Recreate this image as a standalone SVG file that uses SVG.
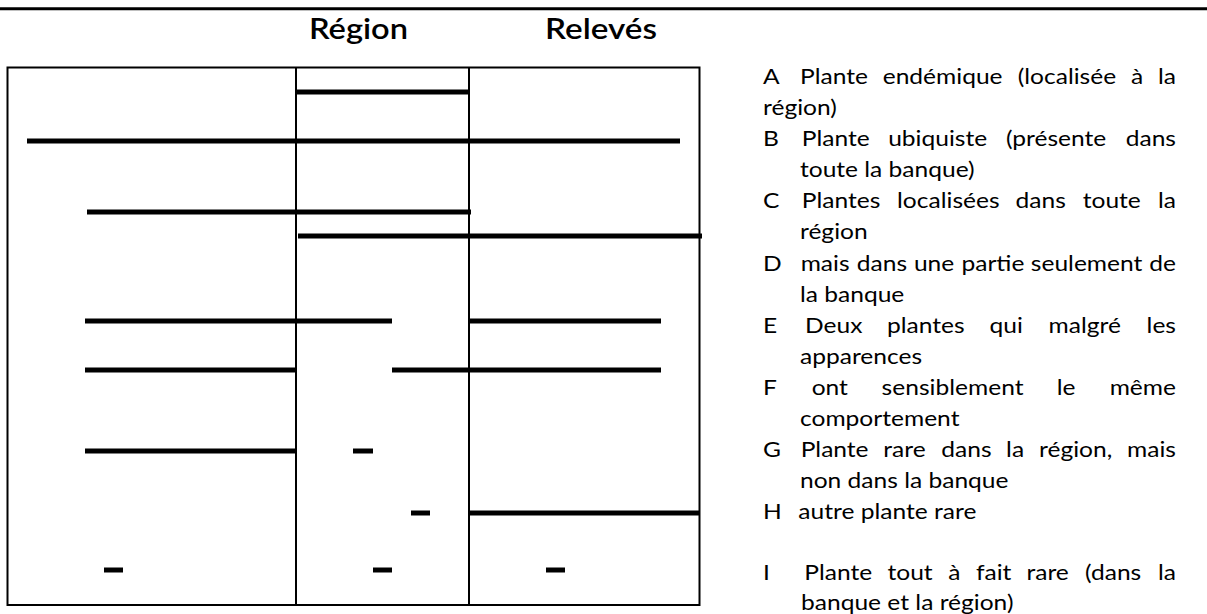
<svg xmlns="http://www.w3.org/2000/svg" width="1207" height="614" viewBox="0 0 1207 614">
  <style>
    .frame { fill: none; stroke: #000; stroke-width: 2; }
    .rule { stroke: #000; stroke-width: 3; }
    .bar { stroke: #000; stroke-width: 5; stroke-linecap: butt; }
    .title { font-family: Lato, "Liberation Sans", sans-serif; font-size: 28px; font-weight: 600; fill: #000; }
    .leg { font-family: Lato, "Liberation Sans", sans-serif; font-size: 21px; fill: #000; }
    .end { text-anchor: end; }
  </style>
  <rect width="1207" height="614" fill="#fff"/>
  <line class="rule" x1="0" y1="8.8" x2="1207" y2="8.8"/>

  <g id="titles">
    <text class="title" x="309" y="39" textLength="99" lengthAdjust="spacingAndGlyphs">Région</text>
    <text class="title" x="545" y="39" textLength="112" lengthAdjust="spacingAndGlyphs">Relevés</text>
  </g>

  <g id="table">
    <rect class="frame" x="7.5" y="67.5" width="692" height="537.5"/>
    <line class="frame" x1="296" y1="67.5" x2="296" y2="605"/>
    <line class="frame" x1="469" y1="67.5" x2="469" y2="605"/>
  </g>

  <g id="connectors">
    <g id="plant-A"><line class="bar" x1="296" y1="92" x2="468" y2="92"/></g>
    <g id="plant-B"><line class="bar" x1="27" y1="141" x2="680" y2="141"/></g>
    <g id="plant-C"><line class="bar" x1="87" y1="212" x2="471" y2="212"/></g>
    <g id="plant-D"><line class="bar" x1="298" y1="236" x2="702" y2="236"/></g>
    <g id="plant-E">
      <line class="bar" x1="85" y1="321" x2="392" y2="321"/>
      <line class="bar" x1="469" y1="321" x2="661" y2="321"/>
    </g>
    <g id="plant-F">
      <line class="bar" x1="85" y1="370" x2="295" y2="370"/>
      <line class="bar" x1="392" y1="370" x2="661" y2="370"/>
    </g>
    <g id="plant-G">
      <line class="bar" x1="85" y1="451" x2="295" y2="451"/>
      <line class="bar" x1="353" y1="451" x2="373" y2="451"/>
    </g>
    <g id="plant-H">
      <line class="bar" x1="411" y1="513" x2="430" y2="513"/>
      <line class="bar" x1="469" y1="513" x2="699" y2="513"/>
    </g>
    <g id="plant-I">
      <line class="bar" x1="104" y1="570" x2="123" y2="570"/>
      <line class="bar" x1="373" y1="570" x2="392" y2="570"/>
      <line class="bar" x1="546" y1="570" x2="565" y2="570"/>
    </g>
  </g>

  <g id="legend" class="leg" transform="matrix(1.17 0 0 1 -129.71 0)">
    <g id="leg-A">
      <text x="763" y="84">A</text>
      <text y="84"><tspan x="794.6">Plante</tspan><tspan x="865.3">endémique</tspan><tspan x="980.7">(localisée</tspan><tspan x="1077.6">à</tspan></text>
      <text class="end" x="1116" y="84">la</text>
      <text x="763" y="115.1">région)</text>
    </g>
    <g id="leg-B">
      <text x="763" y="146.2">B</text>
      <text y="146.2"><tspan x="796.1">Plante</tspan><tspan x="870">ubiquiste</tspan><tspan x="970.6">(présente</tspan></text>
      <text class="end" x="1116" y="146.2">dans</text>
      <text x="794.6" y="177.3">toute la banque)</text>
    </g>
    <g id="leg-C">
      <text x="763" y="208.4">C</text>
      <text y="208.4"><tspan x="796.1">Plantes</tspan><tspan x="877.6">localisées</tspan><tspan x="978.8">dans</tspan><tspan x="1036.3">toute</tspan></text>
      <text class="end" x="1116" y="208.4">la</text>
      <text x="794.6" y="239.5">région</text>
    </g>
    <g id="leg-D">
      <text x="763" y="270.6">D</text>
      <text y="270.6"><tspan x="795.2">mais</tspan><tspan x="843.2">dans</tspan><tspan x="892">une</tspan><tspan x="932.6">partie</tspan><tspan x="991.9">seulement</tspan></text>
      <text class="end" x="1116" y="270.6">de</text>
      <text x="794.6" y="301.7">la banque</text>
    </g>
    <g id="leg-E">
      <text x="763" y="332.8">E</text>
      <text y="332.8"><tspan x="798.9">Deux</tspan><tspan x="869">plantes</tspan><tspan x="956.7">qui</tspan><tspan x="1007.1">malgré</tspan></text>
      <text class="end" x="1116" y="332.8">les</text>
      <text x="794.6" y="363.9">apparences</text>
    </g>
    <g id="leg-F">
      <text x="763" y="395">F</text>
      <text y="395"><tspan x="804.6">ont</tspan><tspan x="864.4">sensiblement</tspan><tspan x="1014.1">le</tspan></text>
      <text class="end" x="1116" y="395">même</text>
      <text x="794.6" y="426.1">comportement</text>
    </g>
    <g id="leg-G">
      <text x="763" y="457.2">G</text>
      <text y="457.2"><tspan x="795.2">Plante</tspan><tspan x="865.8">rare</tspan><tspan x="915.4">dans</tspan><tspan x="970.8">la</tspan><tspan x="998.9">région,</tspan></text>
      <text class="end" x="1116" y="457.2">mais</text>
      <text x="794.6" y="488.3">non dans la banque</text>
    </g>
    <g id="leg-H">
      <text x="763" y="519.4">H</text>
      <text x="793.2" y="519.4">autre plante rare</text>
    </g>
    <g id="leg-I">
      <text x="763" y="580">I</text>
      <text y="580"><tspan x="798.3">Plante</tspan><tspan x="869.4">tout</tspan><tspan x="921.4">à</tspan><tspan x="945">fait</tspan><tspan x="988.2">rare</tspan><tspan x="1038.3">(dans</tspan></text>
      <text class="end" x="1116" y="580">la</text>
      <text x="795.5" y="610">banque et la région)</text>
    </g>
  </g>
</svg>
